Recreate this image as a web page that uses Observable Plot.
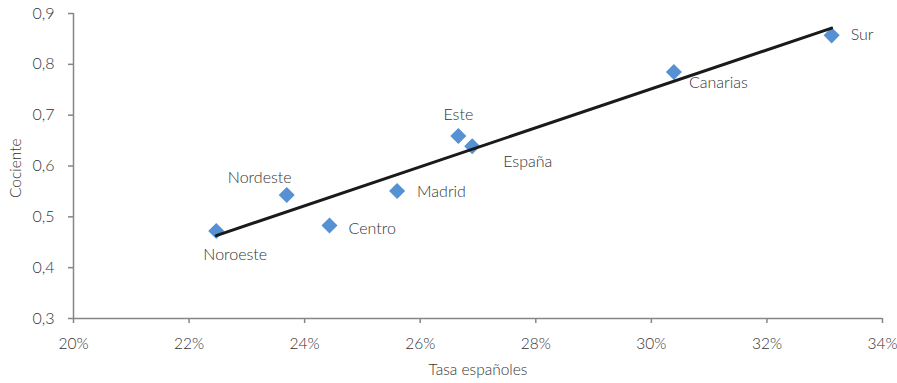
<!DOCTYPE html>
<html>
<head>
<meta charset="utf-8">
<script src="https://cdn.jsdelivr.net/npm/d3@7"></script>
<script src="https://cdn.jsdelivr.net/npm/@observablehq/plot@0.6"></script>
<style>
  html, body { margin: 0; padding: 0; background: #fff; }
  #chart svg { display: block; }
</style>
</head>
<body>
<div id="chart"></div>
<script>
// Data
const regions  = ["Noroeste", "Nordeste", "Centro", "Madrid", "Este", "España", "Canarias", "Sur"];
const tasa     = [22.47, 23.69, 24.43, 25.60, 26.66, 26.90, 30.39, 33.12];   // % (Tasa españoles)
const cociente = [0.472, 0.543, 0.483, 0.551, 0.659, 0.639, 0.785, 0.857];   // Cociente
const xTicks = [20, 22, 24, 26, 28, 30, 32, 34];
const yTicks = [0.3, 0.4, 0.5, 0.6, 0.7, 0.8, 0.9];
const xTitle = "Tasa españoles";
const yTitle = "Cociente";

const data = regions.map((r, i) => ({region: r, x: tasa[i], y: cociente[i]}));

// label placement (annotation styling)
const labelStyle = {
  "Noroeste": {dx: 19, dy: 24, anchor: "middle"},
  "Nordeste": {dx: -27, dy: -17, anchor: "middle"},
  "Centro":   {dx: 19, dy: 3, anchor: "start"},
  "Madrid":   {dx: 20, dy: 1, anchor: "start"},
  "Este":     {dx: 0, dy: -21, anchor: "middle"},
  "España":   {dx: 31, dy: 16, anchor: "start"},
  "Canarias": {dx: 15, dy: 11, anchor: "start"},
  "Sur":      {dx: 19, dy: 0, anchor: "start"}
};

const font = "Lato, 'Open Sans', sans-serif";
const axisColor = "#868686";
const textColor = "#333333";
const fmtY = d => d3.format(".1f")(d).replace(".", ",");
const fmtX = d => d + "%";

const labelMarks = regions.map(r => {
  const s = labelStyle[r];
  return Plot.text(data.filter(d => d.region === r), {
    x: "x", y: "y", text: "region",
    dx: s.dx, dy: s.dy, textAnchor: s.anchor,
    fill: textColor, fontSize: 16, fontWeight: 300
  });
});

const chart = Plot.plot({
  width: 897,
  height: 383,
  marginLeft: 73,
  marginRight: 15,
  marginTop: 13,
  marginBottom: 65,
  style: {fontFamily: font, background: "#fff"},
  x: {domain: [20, 34]},
  y: {domain: [0.3, 0.9]},
  marks: [
    Plot.ruleX([20], {stroke: axisColor, strokeWidth: 1.5}),
    Plot.ruleY([0.3], {stroke: axisColor, strokeWidth: 1.5}),
    Plot.axisX({ticks: xTicks, tickFormat: fmtX, tickSize: 5, tickPadding: 14,
      stroke: axisColor, strokeWidth: 1.5, fill: textColor, fontSize: 15.5, fontWeight: 300, label: null}),
    Plot.axisY({ticks: yTicks, tickFormat: fmtY, tickSize: 5, tickPadding: 14,
      stroke: axisColor, strokeWidth: 1.5, fill: textColor, fontSize: 16, fontWeight: 300, label: null}),
    Plot.dot(data, {x: "x", y: "y", symbol: "square", rotate: 45, r: 6.4,
      fill: "#5591D3", stroke: "none"}),
    Plot.linearRegressionY(data, {x: "x", y: "y", ci: 0, stroke: "#1a1a1a", strokeWidth: 3}),
    ...labelMarks,
    Plot.text([xTitle], {frameAnchor: "bottom", dy: 56, text: d => d, fill: textColor, fontSize: 15.5, fontWeight: 300}),
    Plot.text([yTitle], {frameAnchor: "left", dx: -57, dy: 32, rotate: -90, text: d => d, fill: textColor, fontSize: 15.5, fontWeight: 300})
  ]
});

document.getElementById("chart").appendChild(chart);
</script>
</body>
</html>
